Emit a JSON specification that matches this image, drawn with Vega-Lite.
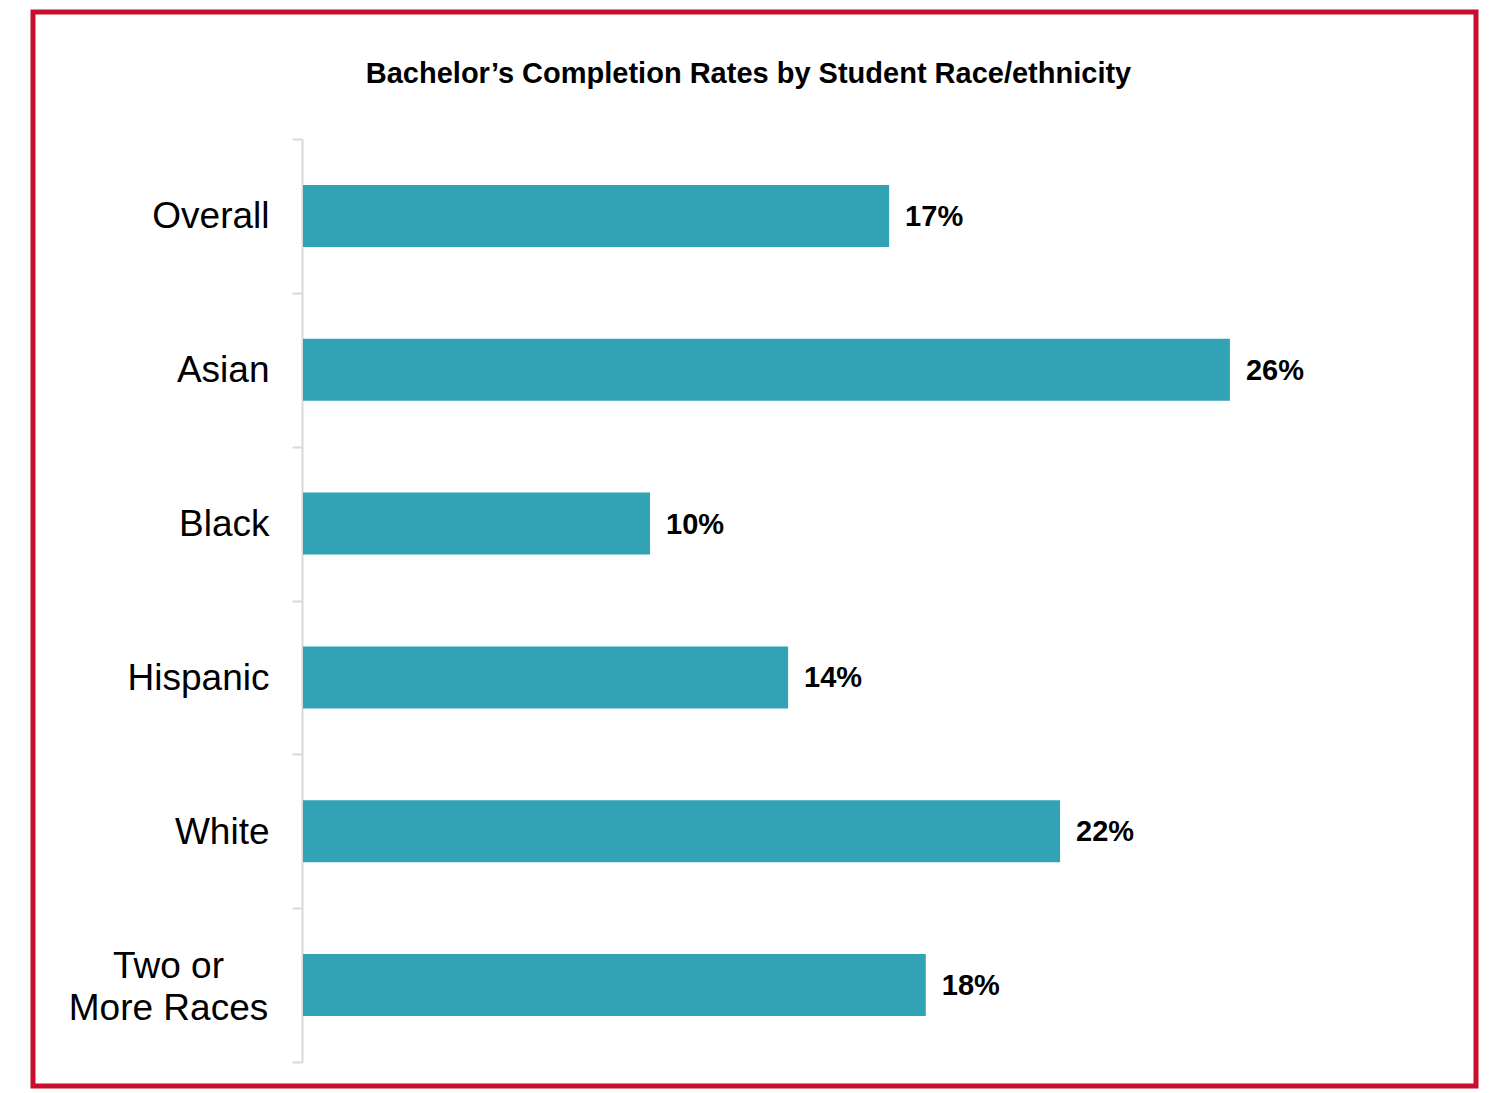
{
  "$schema": "https://vega.github.io/schema/vega-lite/v6.json",
  "width": 1443,
  "height": 1074,
  "autosize": "none",
  "padding": {"left": 33, "top": 12, "right": 18, "bottom": 7},
  "background": "white",
  "title": {
    "text": "Bachelor’s Completion Rates by Student Race/ethnicity",
    "font": "Liberation Sans",
    "fontSize": 29,
    "fontWeight": "bold",
    "color": "#000000",
    "anchor": "middle",
    "frame": "group",
    "offset": -96,
    "dx": -6
  },
  "config": {
    "view": {"stroke": "#C8102E", "strokeWidth": 5, "fill": "white"},
    "font": "Liberation Sans"
  },
  "data": {
    "values": [
      {"group": "Overall", "rate": 16.94, "label": "17%"},
      {"group": "Asian", "rate": 26.79, "label": "26%"},
      {"group": "Black", "rate": 10.03, "label": "10%"},
      {"group": "Hispanic", "rate": 14.02, "label": "14%"},
      {"group": "White", "rate": 21.88, "label": "22%"},
      {"group": "Two or More Races", "rate": 18.0, "label": "18%"}
    ]
  },
  "resolve": {"axis": {"y": "independent"}},
  "layer": [
    {
      "mark": {"type": "bar", "color": "#32A2B5", "height": {"band": 0.403}},
      "encoding": {
        "y": {
          "field": "group",
          "type": "nominal",
          "sort": null,
          "title": null,
          "scale": {"range": [127, 1050], "paddingInner": 0, "paddingOuter": 0},
          "axis": {
            "orient": "left",
            "offset": -269,
            "domainColor": "#D9D9D9",
            "domainWidth": 2,
            "tickColor": "#D9D9D9",
            "tickWidth": 2,
            "tickSize": 10,
            "tickBand": "extent",
            "labelPadding": 23,
            "labelFont": "Liberation Sans",
            "labelFontSize": 37,
            "labelColor": "#000000",
            "labelLimit": 400,
            "labelOffset": 1,
            "labelExpr": "datum.label == 'Two or More Races' ? '' : datum.label",
            "grid": false
          }
        },
        "x": {
          "field": "rate",
          "type": "quantitative",
          "scale": {"domain": [0, 30], "range": [270, 1308]},
          "axis": null
        }
      }
    },
    {
      "mark": {
        "type": "text",
        "align": "left",
        "baseline": "middle",
        "dx": 16,
        "dy": 1,
        "fontSize": 29,
        "fontWeight": "bold",
        "color": "#000000",
        "font": "Liberation Sans"
      },
      "encoding": {
        "y": {
          "field": "group",
          "type": "nominal",
          "sort": null,
          "title": null,
          "axis": {
            "orient": "left",
            "offset": -269,
            "domain": false,
            "ticks": true,
            "tickOpacity": 0,
            "tickSize": 10,
            "labelPadding": 124,
            "labelAlign": "center",
            "labelFont": "Liberation Sans",
            "labelFontSize": 37,
            "labelColor": "#000000",
            "labelLineHeight": 42,
            "labelLimit": 400,
            "labelOffset": -18,
            "labelExpr": "datum.label == 'Two or More Races' ? ['Two or', 'More Races'] : ''",
            "grid": false
          }
        },
        "x": {"field": "rate", "type": "quantitative"},
        "text": {"field": "label"}
      }
    }
  ]
}
